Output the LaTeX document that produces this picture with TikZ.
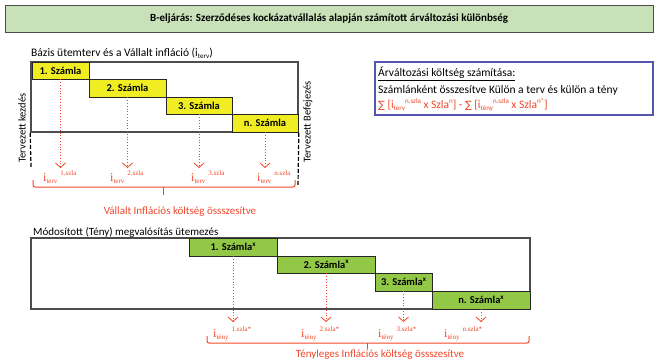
\documentclass[tikz,border=0pt]{standalone}
\usepackage{fontspec}
\setmainfont{Carlito}
\newfontfamily\serifred{Liberation Serif}
\newfontfamily\symfont{DejaVu Sans}
\usetikzlibrary{arrows.meta}

\definecolor{titlegreen}{RGB}{200,225,185}
\definecolor{baryellow}{RGB}{240,238,35}
\definecolor{bargreen}{RGB}{146,200,70}
\definecolor{infred}{RGB}{240,70,40}
\definecolor{frameblue}{RGB}{85,85,175}

\newcommand{\infl}[2]{{\serifred\fontsize{12}{12}\selectfont i\raisebox{-2.5pt}{\fontsize{7}{7}\selectfont #1}\hspace{3pt}\raisebox{5.5pt}{\fontsize{7}{7}\selectfont #2}}}
\newcommand{\lo}[1]{\raisebox{-2pt}{\fontsize{7}{7}\selectfont #1}}
\newcommand{\hi}[1]{\raisebox{4.5pt}{\fontsize{7}{7}\selectfont #1}}

\begin{document}
\begin{tikzpicture}[x=1pt,y=-1pt,
	frame/.style={draw=black!70, line width=1.6pt, inner sep=0pt},
	bar/.style={draw=black!85, line width=0.9pt, inner sep=0pt, font=\bfseries\fontsize{10.5}{12}\selectfont},
	plan/.style={bar, fill=baryellow},
	fact/.style={bar, fill=bargreen},
	infarrow/.style={draw=infred, dotted, line width=0.8pt, -{Straight Barb[length=4.5pt,width=10pt,line width=0.8pt]}},
	brace/.style={draw=infred, line width=1pt, rounded corners=2pt},
	ilabel/.style={anchor=base west, inner sep=0pt, text=infred},
	total/.style={text=infred, font=\fontsize{11}{13}\selectfont},
	edge/.style={draw=black, dashed, line width=1.2pt, dash pattern=on 4pt off 2pt},
	head/.style={anchor=west, inner sep=0pt, font=\fontsize{11.5}{13}\selectfont},
	side/.style={rotate=90, font=\fontsize{10.5}{12}\selectfont}]

	\useasboundingbox (0,0) rectangle (658,360);

	\node[draw=black!70, line width=1pt, fill=titlegreen, minimum width=648pt, minimum height=27pt,
		font=\bfseries\fontsize{11}{13}\selectfont] (title) at (329,18.5)
		{B-eljárás: Szerződéses kockázatvállalás alapján számított árváltozási különbség};

	% tervezett utemezes
	\node[head] (planhead) at (31,53) {Bázis ütemterv és a Vállalt infláció (i\lo{terv})};
	\node[frame, minimum width=267pt, minimum height=70pt] (planbox) at (164.5,97) {};

	\node[plan, minimum width=57pt, minimum height=17pt] (s1) at (60.5,70.5) {1. Számla};
	\node[plan, minimum width=77pt, minimum height=18pt] (s2) at (127.5,88) {2. Számla};
	\node[plan, minimum width=66pt, minimum height=17pt] (s3) at (199,105.5) {3. Számla};
	\node[plan, minimum width=66pt, minimum height=18pt] (sn) at (265,123) {n. Számla};

	\node[side] (start) at (22,128) {Tervezett kezdés};
	\node[side] (finish) at (308,122) {Tervezett Befejezés};

	\coordinate (e1) at (31,167);
	\coordinate (e2) at (298,185);
	\draw[edge] (planbox.south west) to (e1);
	\draw[edge] (planbox.south east) to (e2);

	\coordinate (a1) at (60.5,168);
	\coordinate (a2) at (127.5,168);
	\coordinate (a3) at (199,168);
	\coordinate (an) at (265,168);
	\draw[infarrow] (s1.south) to (a1);
	\draw[infarrow] (s2.south) to (a2);
	\draw[infarrow] (s3.south) to (a3);
	\draw[infarrow] (sn.south) to (an);

	\node[ilabel] (l1) at (43,181) {\infl{terv}{1.szla}};
	\node[ilabel] (l2) at (110,181) {\infl{terv}{2.szla}};
	\node[ilabel] (l3) at (191,181) {\infl{terv}{3.szla}};
	\node[ilabel] (ln) at (257,181) {\infl{terv}{n.szla}};

	\coordinate (b1) at (33,180);
	\coordinate (b2) at (295,180);
	\coordinate (bt) at (163,195);
	\draw[brace] (b1) -- (33,187) -- (295,187) -- (b2);
	\draw[brace] (163,187) -- (bt);
	\node[total] (vt) at (180,212) {Vállalt Inflációs költség össszesítve};

	% szamitas
	\node[draw=frameblue, line width=1.4pt, minimum width=278pt, minimum height=53pt] (calc) at (514,88.5) {};
	\node[head] (c1) at (378,74) {\underline{Árváltozási költség számítása:}};
	\node[head] (c2) at (378,90) {Számlánként összesítve Külön a terv és külön a tény};
	\node[head, text=infred] (c3) at (378,105)
		{{\symfont\fontsize{10}{11}\selectfont ∑} [i\lo{terv}\hi{n.szla} x Szla\hi{n}] - {\symfont\fontsize{10}{11}\selectfont ∑} [i\lo{tény}\hi{n.szla} x Szla\hi{n*}]};

	% teny utemezes
	\node[head, font=\fontsize{11}{13}\selectfont] (facthead) at (33,232) {Módosított (Tény) megvalósítás ütemezés};
	\node[frame, minimum width=499pt, minimum height=71pt] (factbox) at (280.5,273.5) {};

	\node[fact, minimum width=88pt, minimum height=18pt] (g1) at (233,247) {1. Számla\hi{x}};
	\node[fact, minimum width=98pt, minimum height=17pt] (g2) at (326,264.5) {2. Számla\hi{x}};
	\node[fact, minimum width=57pt, minimum height=18pt] (g3) at (403.5,282) {3. Számla\hi{x}};
	\node[fact, minimum width=98pt, minimum height=18pt] (gn) at (481,300) {n. Számla\hi{x}};

	\coordinate (f1) at (233,322);
	\coordinate (f2) at (326,322);
	\coordinate (f3) at (403.5,322);
	\coordinate (fn) at (481,322);
	\draw[infarrow] (g1.south) to (f1);
	\draw[infarrow] (g2.south) to (f2);
	\draw[infarrow] (g3.south) to (f3);
	\draw[infarrow] (gn.south) to (fn);

	\node[ilabel] (m1) at (213,337) {\infl{tény}{1.szla*}};
	\node[ilabel] (m2) at (301,337) {\infl{tény}{2.szla*}};
	\node[ilabel] (m3) at (378,337) {\infl{tény}{3.szla*}};
	\node[ilabel] (mn) at (444,337) {\infl{tény}{n.szla*}};

	\coordinate (d1) at (207,336);
	\coordinate (d2) at (529,336);
	\coordinate (dt) at (367,349);
	\draw[brace] (d1) -- (207,343) -- (529,343) -- (d2);
	\draw[brace] (367,343) -- (dt);
	\node[total] (tt) at (380,355) {Tényleges Inflációs költség össszesítve};

\end{tikzpicture}
\end{document}
